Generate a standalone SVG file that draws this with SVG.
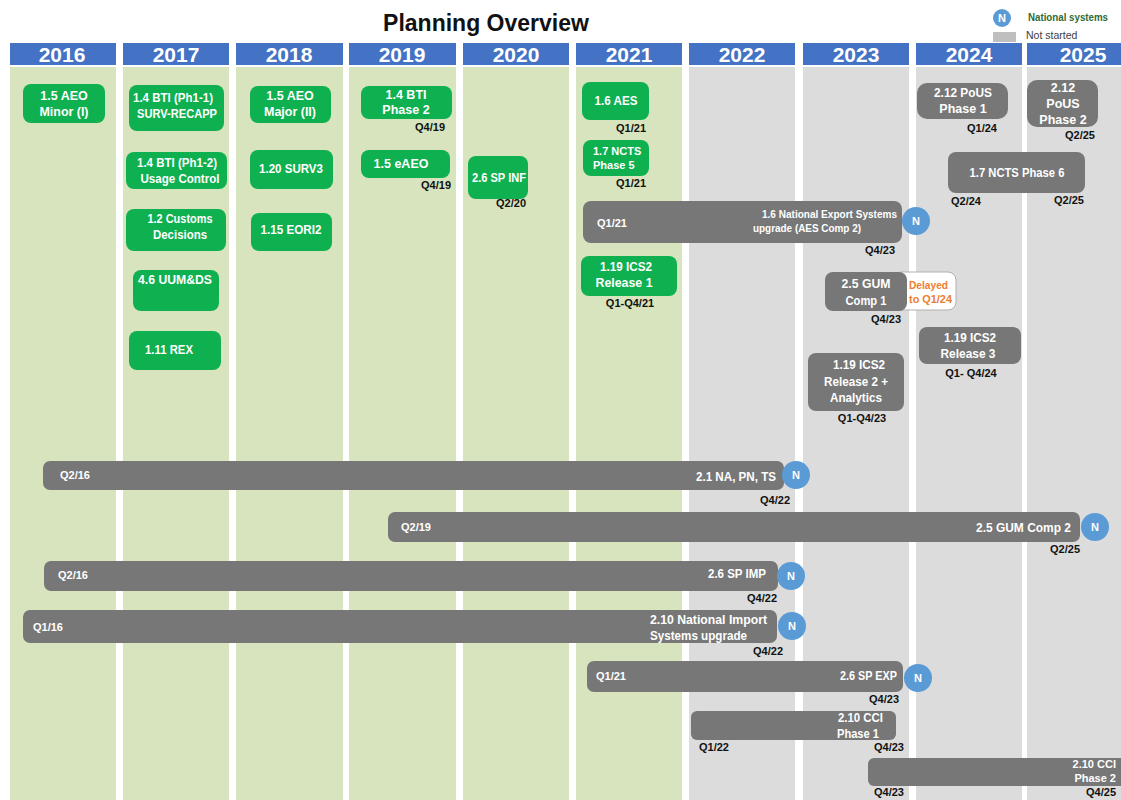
<svg xmlns="http://www.w3.org/2000/svg" width="1121" height="800" viewBox="0 0 1121 800">
<style>
.hdr{fill:#4472c4}
.bg{fill:#d7e4bd}
.bgg{fill:#dcdcdc}
.yr{font-family:"Liberation Sans",Arial,sans-serif;font-weight:bold;font-size:21px;fill:#fff;text-anchor:middle}
.gb{fill:#0fb04f}
.gy{fill:#777777}
.t{font-family:"Liberation Sans",Arial,sans-serif;font-weight:bold;font-size:12.5px;fill:#fff;text-anchor:middle}
.ts{font-family:"Liberation Sans",Arial,sans-serif;font-weight:bold;font-size:11px;fill:#fff}
.q{font-family:"Liberation Sans",Arial,sans-serif;font-weight:bold;font-size:11px;fill:#111}
.qw{font-family:"Liberation Sans",Arial,sans-serif;font-weight:bold;font-size:11px;fill:#fff}
.nc{fill:#5b9bd5}
.nt{font-family:"Liberation Sans",Arial,sans-serif;font-weight:bold;font-size:11px;fill:#fff;text-anchor:middle}
.e{text-anchor:end}
.m{text-anchor:middle}
.s{text-anchor:start}
</style>
<rect width="1121" height="800" fill="#fff"/>
<g id="columns">
<rect class="bg" x="10" y="67" width="106" height="733"/>
<rect class="bg" x="123" y="67" width="106" height="733"/>
<rect class="bg" x="236" y="67" width="107" height="733"/>
<rect class="bg" x="349" y="67" width="107" height="733"/>
<rect class="bg" x="463" y="67" width="106" height="733"/>
<rect class="bg" x="576" y="67" width="106" height="733"/>
<rect class="bgg" x="689" y="67" width="106" height="733"/>
<rect class="bgg" x="803" y="67" width="106" height="733"/>
<rect class="bgg" x="916" y="67" width="106" height="733"/>
<rect class="bgg" x="1027" y="67" width="110" height="733"/>
<rect class="hdr" x="10" y="43" width="106" height="22"/>
<rect class="hdr" x="123" y="43" width="106" height="22"/>
<rect class="hdr" x="236" y="43" width="107" height="22"/>
<rect class="hdr" x="349" y="43" width="107" height="22"/>
<rect class="hdr" x="463" y="43" width="106" height="22"/>
<rect class="hdr" x="576" y="43" width="106" height="22"/>
<rect class="hdr" x="689" y="43" width="106" height="22"/>
<rect class="hdr" x="803" y="43" width="106" height="22"/>
<rect class="hdr" x="916" y="43" width="106" height="22"/>
<rect class="hdr" x="1027" y="43" width="110" height="22"/>
<text class="yr" x="62" y="62">2016</text>
<text class="yr" x="176" y="62">2017</text>
<text class="yr" x="289" y="62">2018</text>
<text class="yr" x="402" y="62">2019</text>
<text class="yr" x="516" y="62">2020</text>
<text class="yr" x="629" y="62">2021</text>
<text class="yr" x="742" y="62">2022</text>
<text class="yr" x="856" y="62">2023</text>
<text class="yr" x="969" y="62">2024</text>
<text class="yr" x="1083" y="62">2025</text>
</g>
<text x="486" y="31" font-family="Liberation Sans, Arial, sans-serif" font-weight="bold" font-size="23" fill="#111" text-anchor="middle">Planning Overview</text>
<g id="legend">
<circle class="nc" cx="1002" cy="18" r="9"/>
<text class="nt" x="1002" y="22">N</text>
<text x="1028" y="21" font-family="Liberation Sans, Arial, sans-serif" font-weight="bold" font-size="10.5" fill="#2f6b34" textLength="80" lengthAdjust="spacingAndGlyphs">National systems</text>
<rect x="993" y="32" width="23" height="10" fill="#bfbfbf"/>
<text x="1026" y="39" font-family="Liberation Sans, Arial, sans-serif" font-size="10.5" fill="#404040">Not started</text>
</g>
<g id="connectors"/>
<g id="n-aeo-minor"><rect class="gb" x="23" y="84" width="82" height="39" rx="8"/><text class="t" x="64" y="100">1.5 AEO</text><text class="t" x="64" y="116" textLength="49" lengthAdjust="spacingAndGlyphs">Minor (I)</text></g>
<g id="n-bti-ph11"><rect class="gb" x="129" y="85" width="95" height="46" rx="8"/><text class="t" x="173" y="102" textLength="80" lengthAdjust="spacingAndGlyphs">1.4 BTI (Ph1-1)</text><text class="t" x="177" y="118" textLength="80" lengthAdjust="spacingAndGlyphs">SURV-RECAPP</text></g>
<g id="n-aeo-major"><rect class="gb" x="250" y="86" width="81" height="37" rx="8"/><text class="t" x="290" y="100">1.5 AEO</text><text class="t" x="290" y="116" textLength="52" lengthAdjust="spacingAndGlyphs">Major (II)</text></g>
<g id="n-bti-ph12"><rect class="gb" x="126" y="152" width="101" height="37" rx="8"/><text class="t" x="177" y="167" textLength="80" lengthAdjust="spacingAndGlyphs">1.4 BTI (Ph1-2)</text><text class="t" x="180" y="183" textLength="79" lengthAdjust="spacingAndGlyphs">Usage Control</text></g>
<g id="n-surv3"><rect class="gb" x="250" y="150" width="83" height="39" rx="8"/><text class="t" x="291" y="173" textLength="64" lengthAdjust="spacingAndGlyphs">1.20 SURV3</text></g>
<g id="n-bti-ph2"><rect class="gb" x="361" y="86" width="91" height="33" rx="8"/><text class="t" x="406" y="99">1.4 BTI</text><text class="t" x="406" y="114">Phase 2</text><text class="q e" x="445" y="131">Q4/19</text></g>
<g id="n-eaeo"><rect class="gb" x="361" y="150" width="89" height="28" rx="8"/><text class="t" x="401" y="168">1.5 eAEO</text><text class="q e" x="451" y="189">Q4/19</text></g>
<g id="n-spinf"><rect class="gb" x="468" y="156" width="60" height="43" rx="8"/><text class="t" x="499" y="182" textLength="54" lengthAdjust="spacingAndGlyphs">2.6 SP INF</text><text class="q e" x="526" y="207">Q2/20</text></g>
<g id="n-aes"><rect class="gb" x="582" y="82" width="67" height="38" rx="8"/><text class="t" x="616" y="105" textLength="43" lengthAdjust="spacingAndGlyphs">1.6 AES</text><text class="q e" x="646" y="132">Q1/21</text></g>
<g id="n-ncts5"><rect class="gb" x="583" y="140" width="66" height="36" rx="8"/><text class="ts" x="593" y="155" font-size="10.5">1.7 NCTS</text><text class="ts" x="593" y="169" font-size="10.5">Phase 5</text><text class="q e" x="646" y="187">Q1/21</text></g>
<g id="n-customs"><rect class="gb" x="126" y="209" width="100" height="42" rx="8"/><text class="t" x="180" y="223" textLength="65" lengthAdjust="spacingAndGlyphs">1.2 Customs</text><text class="t" x="180" y="239" textLength="54" lengthAdjust="spacingAndGlyphs">Decisions</text></g>
<g id="n-eori2"><rect class="gb" x="251" y="213" width="81" height="38" rx="8"/><text class="t" x="291" y="234" textLength="61" lengthAdjust="spacingAndGlyphs">1.15 EORI2</text></g>
<g id="n-uumds"><rect class="gb" x="133" y="270" width="86" height="41" rx="8"/><text class="t" x="175" y="284" textLength="74" lengthAdjust="spacingAndGlyphs">4.6 UUM&amp;DS</text></g>
<g id="n-rex"><rect class="gb" x="129" y="331" width="92" height="39" rx="8"/><text class="t" x="169" y="354" textLength="48" lengthAdjust="spacingAndGlyphs">1.11 REX</text></g>
<g id="n-ics2-r1"><rect class="gb" x="581" y="256" width="96" height="40" rx="8"/><text class="t" x="626" y="271" textLength="52" lengthAdjust="spacingAndGlyphs">1.19 ICS2</text><text class="t" x="624" y="287" textLength="57" lengthAdjust="spacingAndGlyphs">Release  1</text><text class="q m" x="630" y="307">Q1-Q4/21</text></g>
<g id="n-aes-comp2"><rect class="gy" x="583" y="201" width="319" height="42" rx="8"/><text class="qw" x="597" y="227">Q1/21</text><text class="ts" x="762" y="218" font-size="12" textLength="135" lengthAdjust="spacingAndGlyphs">1.6 National  Export Systems</text><text class="ts" x="753" y="232" font-size="12" textLength="108" lengthAdjust="spacingAndGlyphs">upgrade (AES Comp 2)</text><circle class="nc" cx="916" cy="221" r="14"/><text class="nt" x="916" y="225">N</text><text class="q e" x="895" y="254">Q4/23</text></g>
<g id="n-gum1"><rect x="893" y="272" width="63" height="38" rx="8" fill="#fff" stroke="#b0b0b0" stroke-width="1"/><text x="909" y="289" font-family="Liberation Sans, Arial, sans-serif" font-weight="bold" font-size="10.5" fill="#ed7d31" textLength="39" lengthAdjust="spacingAndGlyphs">Delayed</text><text x="909" y="303" font-family="Liberation Sans, Arial, sans-serif" font-weight="bold" font-size="10.5" fill="#ed7d31" textLength="43" lengthAdjust="spacingAndGlyphs">to Q1/24</text><rect class="gy" x="825" y="272" width="82" height="39" rx="8"/><text class="t" x="866" y="288" textLength="49" lengthAdjust="spacingAndGlyphs">2.5 GUM</text><text class="t" x="866" y="305" textLength="41" lengthAdjust="spacingAndGlyphs">Comp 1</text><text class="q e" x="901" y="323">Q4/23</text></g>
<g id="n-ics2-r3"><rect class="gy" x="919" y="327" width="102" height="37" rx="8"/><text class="t" x="970" y="342" textLength="52" lengthAdjust="spacingAndGlyphs">1.19 ICS2</text><text class="t" x="968" y="358" textLength="55" lengthAdjust="spacingAndGlyphs">Release 3</text><text class="q m" x="971" y="377">Q1- Q4/24</text></g>
<g id="n-ics2-r2"><rect class="gy" x="808" y="353" width="96" height="58" rx="8"/><text class="t" x="859" y="369" textLength="52" lengthAdjust="spacingAndGlyphs">1.19 ICS2</text><text class="t" x="856" y="386" textLength="64" lengthAdjust="spacingAndGlyphs">Release 2 +</text><text class="t" x="856" y="402" textLength="52" lengthAdjust="spacingAndGlyphs">Analytics</text><text class="q m" x="862" y="422">Q1-Q4/23</text></g>
<g id="n-pous1"><rect class="gy" x="917" y="83" width="91" height="36" rx="10"/><text class="t" x="963" y="97" textLength="58" lengthAdjust="spacingAndGlyphs">2.12 PoUS</text><text class="t" x="963" y="113">Phase 1</text><text class="q m" x="982" y="132">Q1/24</text></g>
<g id="n-pous2"><rect class="gy" x="1027" y="80" width="71" height="47" rx="10"/><text class="t" x="1063" y="92">2.12</text><text class="t" x="1063" y="108">PoUS</text><text class="t" x="1063" y="124">Phase 2</text><text class="q m" x="1080" y="139">Q2/25</text></g>
<g id="n-ncts6"><rect class="gy" x="948" y="152" width="137" height="41" rx="8"/><text class="t" x="1017" y="177" textLength="95" lengthAdjust="spacingAndGlyphs">1.7 NCTS Phase 6</text><text class="q m" x="966" y="205">Q2/24</text><text class="q m" x="1069" y="204">Q2/25</text></g>
<g id="n-na-pn-ts"><rect class="gy" x="43" y="461" width="741" height="29" rx="7"/><text class="qw" x="60" y="479">Q2/16</text><text class="t e" x="776" y="481" textLength="80" lengthAdjust="spacingAndGlyphs">2.1 NA, PN, TS</text><circle class="nc" cx="796" cy="475" r="14"/><text class="nt" x="796" y="479">N</text><text class="q e" x="790" y="504">Q4/22</text></g>
<g id="n-gum2"><rect class="gy" x="388" y="512" width="692" height="30" rx="7"/><text class="qw" x="401" y="531">Q2/19</text><text class="t e" x="1071" y="532" textLength="95" lengthAdjust="spacingAndGlyphs">2.5 GUM Comp 2</text><circle class="nc" cx="1095" cy="527" r="14"/><text class="nt" x="1095" y="531">N</text><text class="q e" x="1080" y="553">Q2/25</text></g>
<g id="n-spimp"><rect class="gy" x="44" y="561" width="734" height="30" rx="7"/><text class="qw" x="58" y="579">Q2/16</text><text class="t e" x="766" y="578" textLength="58" lengthAdjust="spacingAndGlyphs">2.6 SP IMP</text><circle class="nc" cx="791" cy="576" r="14"/><text class="nt" x="791" y="580">N</text><text class="q e" x="777" y="602">Q4/22</text></g>
<g id="n-nat-import"><rect class="gy" x="23" y="610" width="754" height="33" rx="7"/><text class="qw" x="33" y="631">Q1/16</text><text class="t s" x="650" y="624" textLength="117" lengthAdjust="spacingAndGlyphs">2.10 National Import</text><text class="t s" x="650" y="640" textLength="97" lengthAdjust="spacingAndGlyphs">Systems upgrade</text><circle class="nc" cx="792" cy="626" r="14"/><text class="nt" x="792" y="630">N</text><text class="q e" x="783" y="655">Q4/22</text></g>
<g id="n-spexp"><rect class="gy" x="587" y="661" width="316" height="31" rx="7"/><text class="qw" x="596" y="680">Q1/21</text><text class="t e" x="897" y="680" textLength="57" lengthAdjust="spacingAndGlyphs">2.6 SP EXP</text><circle class="nc" cx="918" cy="678" r="14"/><text class="nt" x="918" y="682">N</text><text class="q e" x="899" y="703">Q4/23</text></g>
<g id="n-cci1"><rect class="gy" x="691" y="711" width="205" height="29" rx="6"/><text class="t s" x="838" y="722" textLength="45" lengthAdjust="spacingAndGlyphs">2.10 CCI</text><text class="t s" x="837" y="738" textLength="42" lengthAdjust="spacingAndGlyphs">Phase 1</text><text class="q" x="699" y="751">Q1/22</text><text class="q" x="874" y="751">Q4/23</text></g>
<g id="n-cci2"><rect class="gy" x="868" y="758" width="270" height="28" rx="6"/><text class="ts e" x="1116" y="768" font-size="10">2.10 CCI</text><text class="ts e" x="1116" y="782" font-size="10">Phase 2</text><text class="q" x="874" y="796">Q4/23</text><text class="q e" x="1116" y="796">Q4/25</text></g>
</svg>
